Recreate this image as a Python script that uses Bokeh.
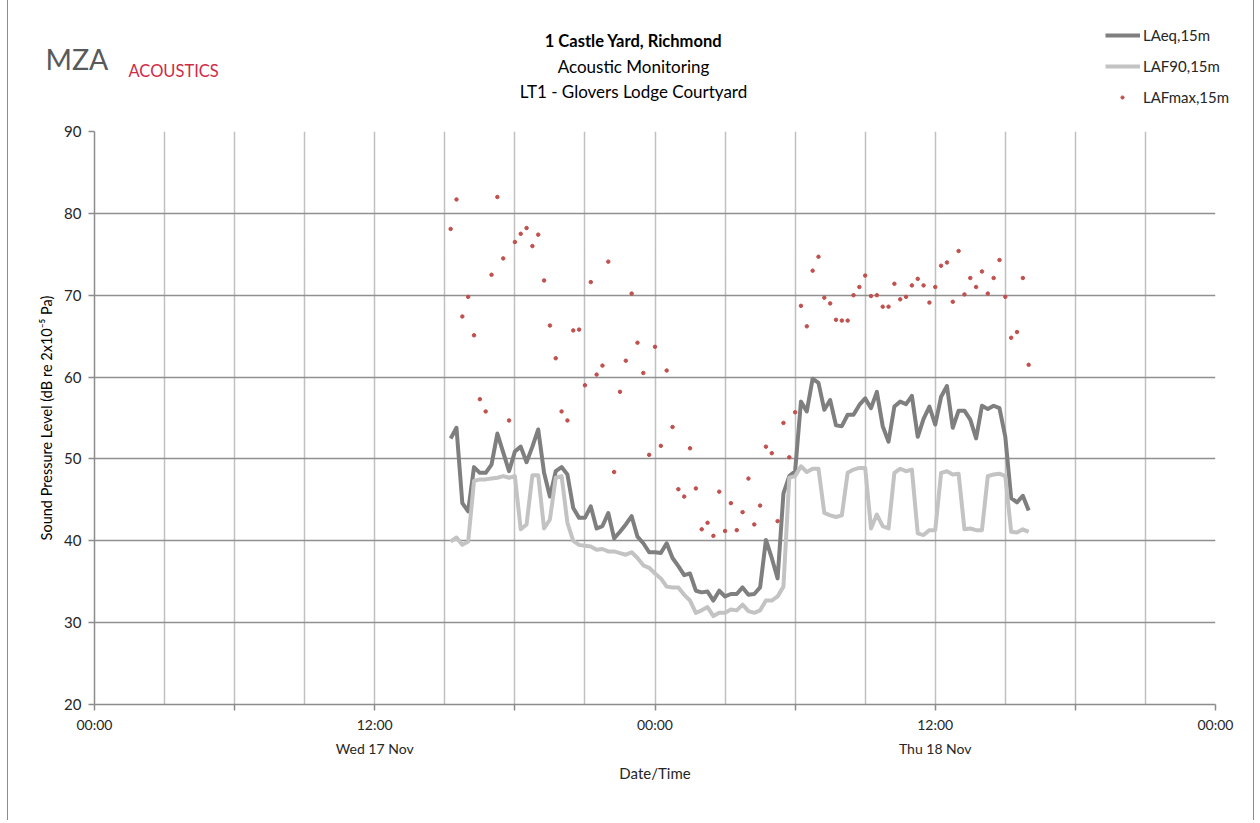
import pandas as pd
from bokeh.plotting import figure
from bokeh.models import ColumnDataSource, Range1d, FixedTicker, Label, Legend, LegendItem
from bokeh.embed import file_html
from bokeh.resources import INLINE

# ---------------- data (15-minute periods, from Wed 17 Nov 15:15) ----------------
start_time = "2021-11-17 15:15"
laeq = [52.5, 53.8, 44.6, 43.6, 49.0, 48.3, 48.3, 49.3, 53.1, 50.8,
        48.5, 50.9, 51.5, 49.6, 51.5, 53.6, 48.3, 45.4, 48.5, 49.0,
        48.1, 44.0, 42.8, 42.8, 44.2, 41.5, 41.8, 43.4, 40.3, 41.1,
        42.0, 43.0, 40.5, 39.7, 38.6, 38.6, 38.5, 39.7, 37.9, 36.9,
        35.8, 36.0, 33.9, 33.7, 33.8, 32.7, 33.9, 33.2, 33.5, 33.5,
        34.3, 33.4, 33.5, 34.3, 40.1, 37.9, 35.4, 45.8, 47.9, 48.5,
        57.0, 55.8, 59.8, 59.3, 56.0, 57.2, 54.1, 54.0, 55.4, 55.4,
        56.6, 57.4, 56.2, 58.2, 54.0, 52.1, 56.4, 57.0, 56.7, 57.7,
        52.7, 54.9, 56.4, 54.2, 57.6, 58.9, 53.8, 55.9, 55.9, 54.8,
        52.5, 56.5, 56.1, 56.5, 56.2, 52.7, 45.2, 44.7, 45.5, 43.7]
laf90 = [39.9, 40.4, 39.5, 39.9, 47.3, 47.5, 47.5, 47.6, 47.7, 47.9,
         47.7, 47.9, 41.4, 42.0, 48.0, 48.0, 41.5, 42.6, 47.7, 47.9,
         42.2, 40.0, 39.5, 39.4, 39.3, 38.9, 39.0, 38.7, 38.7, 38.5,
         38.3, 38.6, 37.9, 37.0, 36.7, 36.0, 35.4, 34.4, 34.3, 34.3,
         33.4, 32.7, 31.2, 31.5, 31.9, 30.8, 31.2, 31.2, 31.6, 31.5,
         32.2, 31.4, 31.2, 31.5, 32.7, 32.7, 33.2, 34.4, 47.7, 47.9,
         49.1, 48.4, 48.8, 48.8, 43.4, 43.1, 42.9, 43.1, 48.3, 48.7,
         48.9, 48.9, 41.5, 43.2, 41.8, 41.5, 48.3, 48.8, 48.5, 48.7,
         40.9, 40.7, 41.3, 41.3, 48.3, 48.5, 48.1, 48.2, 41.4, 41.5,
         41.3, 41.3, 47.9, 48.1, 48.2, 47.9, 41.1, 41.0, 41.4, 41.1]
lafmax = [78.1, 81.7, 67.4, 69.8, 65.1, 57.3, 55.8, 72.5, 82.0, 74.5,
          54.7, 76.5, 77.5, 78.2, 76.0, 77.4, 71.8, 66.3, 62.3, 55.8,
          54.7, 65.7, 65.8, 59.0, 71.6, 60.3, 61.4, 74.1, 48.4, 58.2,
          62.0, 70.2, 64.2, 60.5, 50.5, 63.7, 51.6, 60.8, 53.9, 46.3,
          45.4, 51.3, 46.4, 41.4, 42.2, 40.6, 46.0, 41.2, 44.6, 41.3,
          43.5, 47.6, 42.0, 44.3, 51.5, 50.7, 42.4, 54.4, 50.2, 55.7,
          68.7, 66.2, 73.0, 74.7, 69.7, 69.0, 67.0, 66.9, 66.9, 70.0,
          71.0, 72.4, 69.9, 70.0, 68.6, 68.6, 71.4, 69.5, 69.8, 71.2,
          72.0, 71.2, 69.1, 71.0, 73.6, 74.0, 69.2, 75.4, 70.1, 72.1,
          71.0, 72.9, 70.2, 72.1, 74.3, 69.8, 64.8, 65.5, 72.1, 61.5]
series_names = ["LAeq,15m", "LAF90,15m", "LAFmax,15m"]
x_tick_labels = {0: "00:00", 12: "12:00\nWed 17 Nov", 24: "00:00", 36: "12:00\nThu 18 Nov", 48: "00:00"}
y_ticks = [20, 30, 40, 50, 60, 70, 80, 90]
title_lines = ["1 Castle Yard, Richmond", "Acoustic Monitoring", "LT1 - Glovers Lodge Courtyard"]

FONT = "Lato"
SERIES_STYLE = [dict(line_color="#7f7f7f", line_width=4),
                dict(line_color="#c3c3c3", line_width=4),
                dict(size=3.5, fill_color="#c0504d", line_color="#c0504d")]
BOX_STYLE = {"margin-left": "7px",
             "border-left": "1px solid #8c8c8c",
             "border-right": "1px solid #8c8c8c"}

times = pd.date_range(start_time, periods=len(laeq), freq="15min")
src = ColumnDataSource(dict(t=times, laeq=laeq, laf90=laf90, lafmax=lafmax))

day0 = pd.Timestamp("2021-11-17")
day2 = pd.Timestamp("2021-11-19")
t0_ms = day0.value / 1e6
HOUR = 3600000.0
W = 1247

# ---------------- header (logo, titles, legend) : its own root ----------------
hdr = figure(width=W, height=120, x_range=Range1d(8, 8 + W), y_range=Range1d(120, 0),
             x_axis_location=None, y_axis_location=None,
             output_backend="svg", toolbar_location=None,
             min_border=0, min_border_left=0, min_border_right=0, min_border_top=0, min_border_bottom=0)
hdr.grid.visible = False
hdr.outline_line_color = None
hdr.styles = dict(BOX_STYLE)

def lab(text, x, y, size, bold=False, color="#000000", align="center", baseline="middle"):
    hdr.add_layout(Label(x=x, y=y, text=text,
                         text_font=FONT, text_font_size=size,
                         text_font_style="bold" if bold else "normal",
                         text_color=color, text_align=align, text_baseline=baseline))

lab(title_lines[0], 633, 40, "16.5px", bold=True)
lab(title_lines[1], 633, 66, "17px")
lab(title_lines[2], 633, 91, "17px")
lab("MZA", 45, 58, "28.5px", color="#58595b", align="left")
lab("ACOUSTICS", 128, 70, "16.5px", color="#cf2a48", align="left")

# legend entries (same styling as the chart series; a NaN point keeps them invisible in the header)
nan = float("nan")
h1 = hdr.line(x=[nan], y=[nan], **SERIES_STYLE[0])
h2 = hdr.line(x=[nan], y=[nan], **SERIES_STYLE[1])
h3 = hdr.scatter(x=[nan], y=[nan], **SERIES_STYLE[2])
LEG = dict(orientation="vertical", glyph_height=20, label_height=20, spacing=11,
           padding=0, margin=0, border_line_color=None, background_fill_alpha=0,
           label_text_font=FONT, label_text_font_size="15px", label_text_color="#262626")
leg_lines = Legend(items=[LegendItem(label=series_names[0], renderers=[h1]),
                          LegendItem(label=series_names[1], renderers=[h2])],
                   location=(1097, 44), glyph_width=35, label_standoff=3, **LEG)
leg_dots = Legend(items=[LegendItem(label=series_names[2], renderers=[h3])],
                  location=(1110, 13), glyph_width=8, label_standoff=17, **LEG)
hdr.add_layout(leg_lines, "center")
hdr.add_layout(leg_dots, "center")

# ---------------- main chart : second root ----------------
p = figure(width=W, height=700, x_axis_type="datetime",
           x_range=Range1d(day0, day2), y_range=Range1d(20, 90),
           output_backend="svg", toolbar_location=None,
           min_border_left=86, min_border_right=40, min_border_top=11, min_border_bottom=116)
p.outline_line_color = None
p.background_fill_color = "white"
p.styles = dict(BOX_STYLE)

p.xgrid.ticker = FixedTicker(ticks=[t0_ms + h * HOUR for h in range(0, 49, 3)])
p.xgrid.grid_line_color = "#c0c0c0"
p.xgrid.grid_line_width = 1.5
p.ygrid.ticker = FixedTicker(ticks=y_ticks)
p.ygrid.grid_line_color = "#909090"
p.ygrid.grid_line_width = 1.5

xa = p.xaxis[0]
xa.ticker = FixedTicker(ticks=[t0_ms + h * HOUR for h in range(0, 49, 6)])
xa.major_label_overrides = {t0_ms + h * HOUR: x_tick_labels.get(h, "") for h in range(0, 49, 6)}
xa.minor_tick_line_color = None
xa.major_tick_out = 6
xa.major_tick_in = 0
xa.axis_line_color = "#8c8c8c"
xa.axis_line_width = 1.5
xa.major_tick_line_color = "#8c8c8c"
xa.major_tick_line_width = 1.5
xa.major_label_text_font = FONT
xa.major_label_text_font_size = "14px"
xa.major_label_text_color = "#262626"
xa.major_label_text_line_height = 1.43
xa.major_label_standoff = 5
xa.axis_label = "Date/Time"
xa.axis_label_text_font = FONT
xa.axis_label_text_font_size = "15px"
xa.axis_label_text_font_style = "normal"
xa.axis_label_text_color = "#262626"
xa.axis_label_standoff = 4

ya = p.yaxis[0]
ya.ticker = FixedTicker(ticks=y_ticks)
ya.minor_tick_line_color = None
ya.major_tick_out = 6
ya.major_tick_in = 0
ya.axis_line_color = "#8c8c8c"
ya.axis_line_width = 1.5
ya.major_tick_line_color = "#8c8c8c"
ya.major_tick_line_width = 1.5
ya.major_label_text_font = FONT
ya.major_label_text_font_size = "15px"
ya.major_label_text_color = "#262626"
ya.major_label_standoff = 7
ya.axis_label = "Sound Pressure Level (dB re 2x10\u207b\u2075 Pa)"
ya.axis_label_text_font = FONT
ya.axis_label_text_font_size = "14.5px"
ya.axis_label_text_font_style = "normal"
ya.axis_label_text_color = "#000000"
ya.axis_label_standoff = 6

# series (Excel order: LAeq, LAF90, LAFmax)
p.line("t", "laeq", source=src, line_join="round", **SERIES_STYLE[0])
p.line("t", "laf90", source=src, line_join="round", **SERIES_STYLE[1])
p.scatter("t", "lafmax", source=src, **SERIES_STYLE[2])

open("out.html", "w").write(file_html([hdr, p], INLINE))
